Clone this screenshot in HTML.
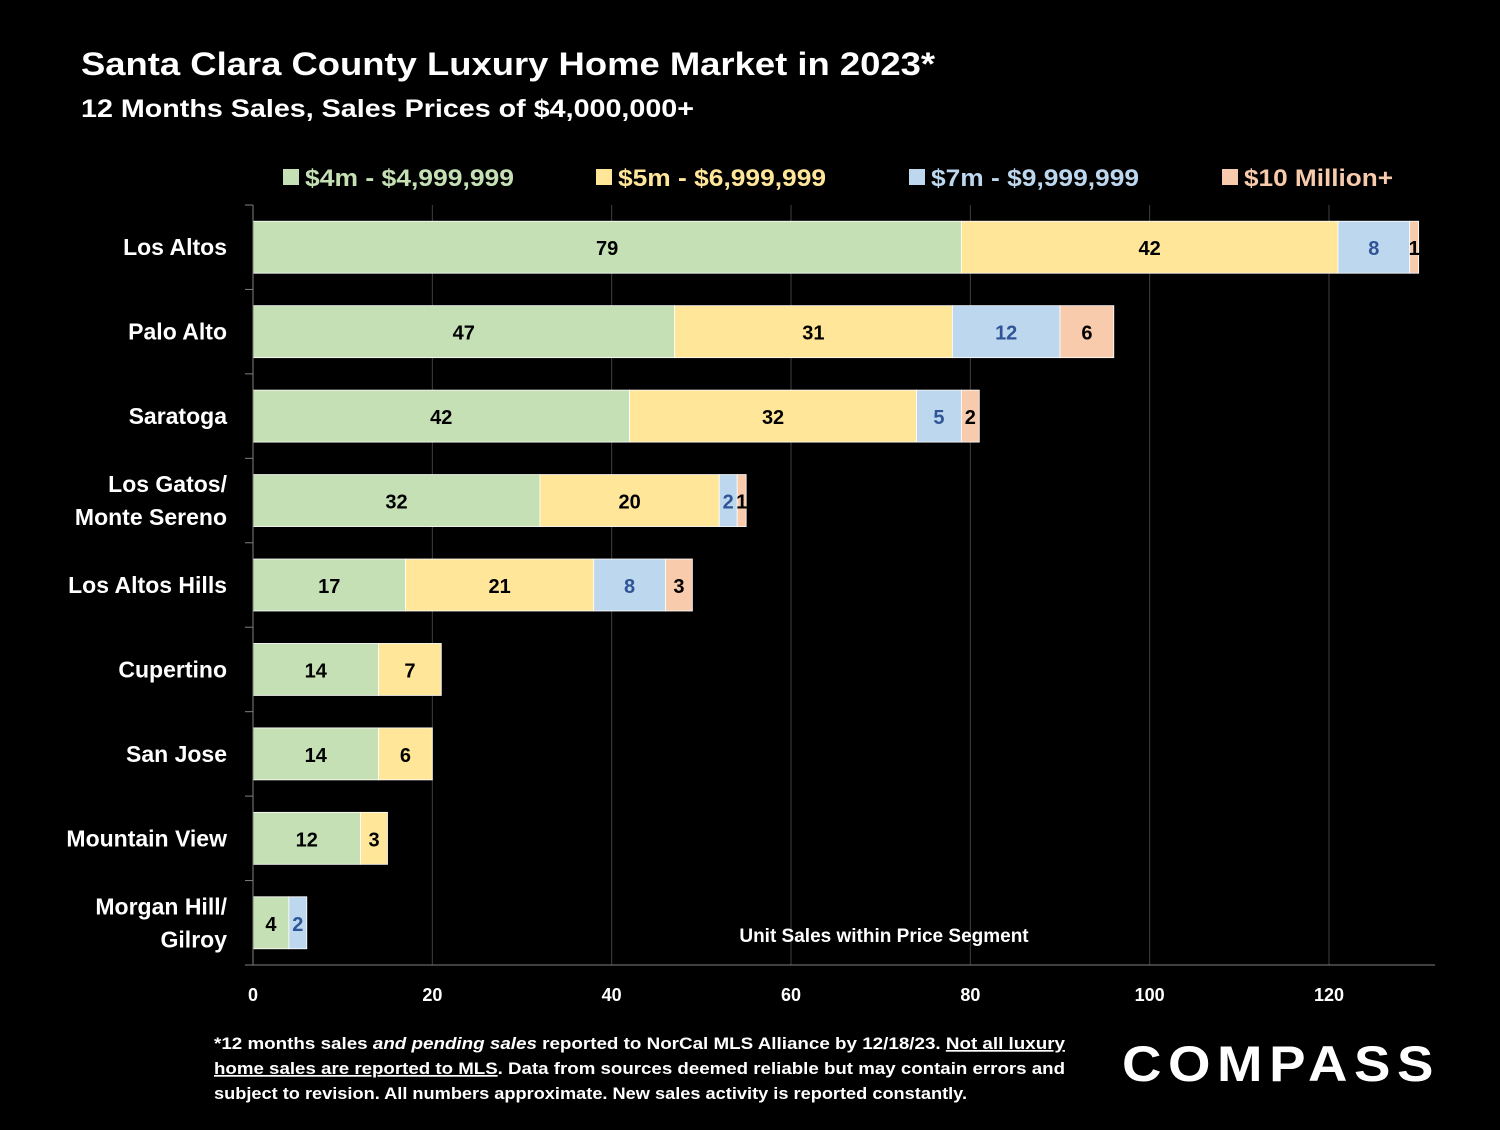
<!DOCTYPE html>
<html><head><meta charset="utf-8"><style>
body{margin:0;background:#000;width:1500px;height:1125px;overflow:hidden;font-family:"Liberation Sans",sans-serif}
svg text{font-family:"Liberation Sans",sans-serif;font-weight:bold}
</style></head><body>
<svg id="c" width="1500" height="1125">
<text x="81" y="75" font-size="32" fill="#fff" textLength="854" lengthAdjust="spacingAndGlyphs">Santa Clara County Luxury Home Market in 2023*</text>
<text x="81" y="117" font-size="25" fill="#fff" textLength="613" lengthAdjust="spacingAndGlyphs">12 Months Sales, Sales Prices of $4,000,000+</text>
<g id="legend"></g>
<g id="grid"></g><g id="bars"></g><g id="axes"></g>
<text x="884" y="942" font-size="19" fill="#fff" text-anchor="middle">Unit Sales within Price Segment</text>
<g font-size="17" fill="#fff" font-weight="bold">
<text x="214" y="1049" textLength="851" lengthAdjust="spacingAndGlyphs">*12 months sales <tspan font-style="italic">and pending sales</tspan> reported to NorCal MLS Alliance by 12/18/23. <tspan text-decoration="underline">Not all luxury</tspan></text>
<text x="214" y="1074" textLength="851" lengthAdjust="spacingAndGlyphs"><tspan text-decoration="underline">home sales are reported to MLS</tspan>. Data from sources deemed reliable but may contain errors and</text>
<text x="214" y="1099" textLength="753" lengthAdjust="spacingAndGlyphs">subject to revision. All numbers approximate. New sales activity is reported constantly.</text>
</g>
<text x="1122" y="1081" font-size="50" fill="#fff" font-weight="normal" letter-spacing="6" textLength="318" lengthAdjust="spacingAndGlyphs">COMPASS</text>
</svg>
<script>
const categories=[["Los Altos"],["Palo Alto"],["Saratoga"],["Los Gatos/","Monte Sereno"],["Los Altos Hills"],["Cupertino"],["San Jose"],["Mountain View"],["Morgan Hill/","Gilroy"]];
const s4m=[79,47,42,32,17,14,14,12,4];
const s5m=[42,31,32,20,21,7,6,3,0];
const s7m=[8,12,5,2,8,0,0,0,2];
const s10m=[1,6,2,1,3,0,0,0,0];
const seriesNames=["$4m - $4,999,999","$5m - $6,999,999","$7m - $9,999,999","$10 Million+"];
const xTicks=[0,20,40,60,80,100,120];
const NS="http://www.w3.org/2000/svg";
const fills=["#c5e0b4","#ffe699","#bdd7ee","#f8cbad"];
const labCol=["#000","#000","#2f5597","#000"];
const x0=253,x1=1329,xMax=120,yTop=205,yBot=965;
const band=(yBot-yTop)/categories.length;
const X=v=>x0+v*(x1-x0)/xMax;
const Y=i=>yTop+band*i+band/2;
function mk(t,a,p){const e=document.createElementNS(NS,t);for(const k in a)e.setAttribute(k,a[k]);(p||document.getElementById('c')).appendChild(e);return e;}
const grid=document.getElementById('grid'),bars=document.getElementById('bars'),axes=document.getElementById('axes'),leg=document.getElementById('legend');
xTicks.forEach(t=>{
 if(t>0){const g=mk('line',{x1:X(t),x2:X(t),y1:yTop,y2:yBot,stroke:'#404040','stroke-width':1},grid);
 
 }
 const l=mk('text',{x:X(t),y:1001,'font-size':18,fill:'#fff','text-anchor':'middle'},axes);
 
 
 l.textContent=t;
});
const ax=mk('line',{x1:245,x2:1435,y1:yBot,y2:yBot,stroke:'#808080','stroke-width':1},axes);


const ay=mk('line',{x1:x0,x2:x0,y1:yTop,y2:yBot,stroke:'#808080','stroke-width':1},axes);


for(let i=0;i<=categories.length;i++){mk('line',{x1:245,x2:x0,y1:yTop+band*i,y2:yTop+band*i,stroke:'#808080'},axes);}
const series=[s4m,s5m,s7m,s10m];
categories.forEach((c,i)=>{
 const yc=Y(i);
 c.forEach((s,j)=>{
  const t=mk('text',{x:227,y:yc+8+(j-(c.length-1)/2)*33,'font-size':23,fill:'#fff','text-anchor':'end'},axes);
  
  
  t.textContent=s;
 });
 let acc=0;
 series.forEach((ser,k)=>{
  const v=ser[i];if(!v)return;
  const r=mk('rect',{x:X(acc),y:yc-26,width:X(acc+v)-X(acc),height:52,fill:fills[k],stroke:'#fff','stroke-width':0.8},bars);
  
  
  const t=mk('text',{x:(X(acc)+X(acc+v))/2,y:yc+8,'font-size':20,fill:labCol[k],'text-anchor':'middle'},bars);
  
  
  t.textContent=v;
  acc+=v;
 });
});
const legX=[283,596,909,1222];
const legLen=[209,208,208,149];
seriesNames.forEach((n,k)=>{
 const r=mk('rect',{x:legX[k],y:169,width:16,height:16,fill:fills[k]},leg);
 
 
 const t=mk('text',{x:legX[k]+22,y:186,'font-size':24,fill:fills[k],textLength:legLen[k],lengthAdjust:'spacingAndGlyphs'},leg);
 
 
 t.textContent=n;
});
</script>
</body></html>
